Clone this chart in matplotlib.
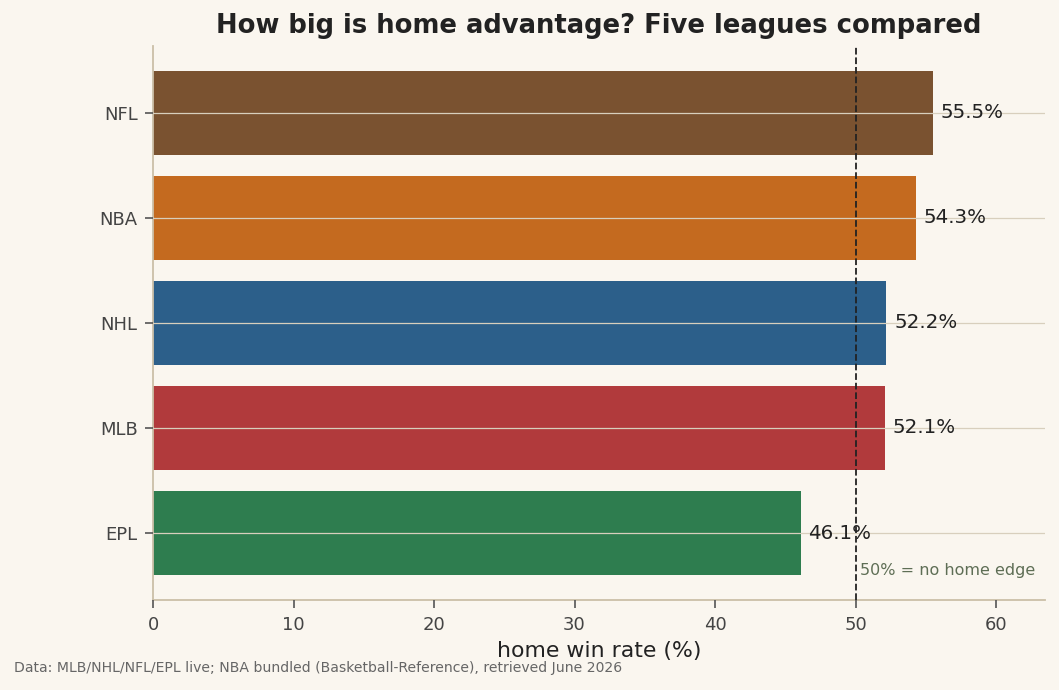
import matplotlib
matplotlib.use("Agg")
import matplotlib.pyplot as plt

# data
leagues = ['EPL', 'MLB', 'NHL', 'NBA', 'NFL']
home_win = [46.1, 52.1, 52.2, 54.3, 55.5]
colors = ['#2e7d4f', '#b13a3c', '#2c5f8a', '#c46a1f', '#7a5230']

bg = '#faf6ef'
spine_col = '#cbbfa8'

fig, ax = plt.subplots(figsize=(10.59, 6.9), dpi=100)
fig.patch.set_facecolor(bg)
ax.set_facecolor(bg)

y_pos = range(len(leagues))
ax.barh(y_pos, home_win, height=0.8, color=colors, zorder=1)

# grid over the bars
ax.set_axisbelow(False)
ax.yaxis.grid(True, color='#d8cfbd', linewidth=0.9, zorder=2)
ax.xaxis.grid(False)

for y, v in zip(y_pos, home_win):
    ax.text(v + 0.55, y, f'{v:.1f}%', va='center', ha='left',
            fontsize=14.3, color='#222222', zorder=4)

ax.axvline(50, color='#222222', linestyle='--', linewidth=1.3, zorder=3)
ax.text(50.3, -0.36, '50% = no home edge', fontsize=11.5, color='#5e6e55',
        ha='left', va='center', zorder=4)

ax.set_yticks(list(y_pos))
ax.set_yticklabels(leagues)
ax.set_xlim(0, 63.5)
ax.set_xticks([0, 10, 20, 30, 40, 50, 60])

ax.tick_params(axis='both', colors='#555555', labelcolor='#444444',
               labelsize=13, length=6, width=1.2, pad=5)
for s in ['top', 'right']:
    ax.spines[s].set_visible(False)
for s in ['left', 'bottom']:
    ax.spines[s].set_color(spine_col)
    ax.spines[s].set_linewidth(1.3)

ax.set_xlabel('home win rate (%)', fontsize=15.8, color='#222222', labelpad=5)
ax.set_title('How big is home advantage? Five leagues compared',
             fontsize=18.6, fontweight='bold', color='#222222', pad=9)

fig.text(0.013, 0.022, 'Data: MLB/NHL/NFL/EPL live; NBA bundled (Basketball-Reference), retrieved June 2026',
         fontsize=10.1, color='#666666', ha='left', va='bottom')

fig.subplots_adjust(left=0.1445, right=0.987, top=0.934, bottom=0.13)
fig.savefig('out.png', dpi=100, facecolor=bg)
